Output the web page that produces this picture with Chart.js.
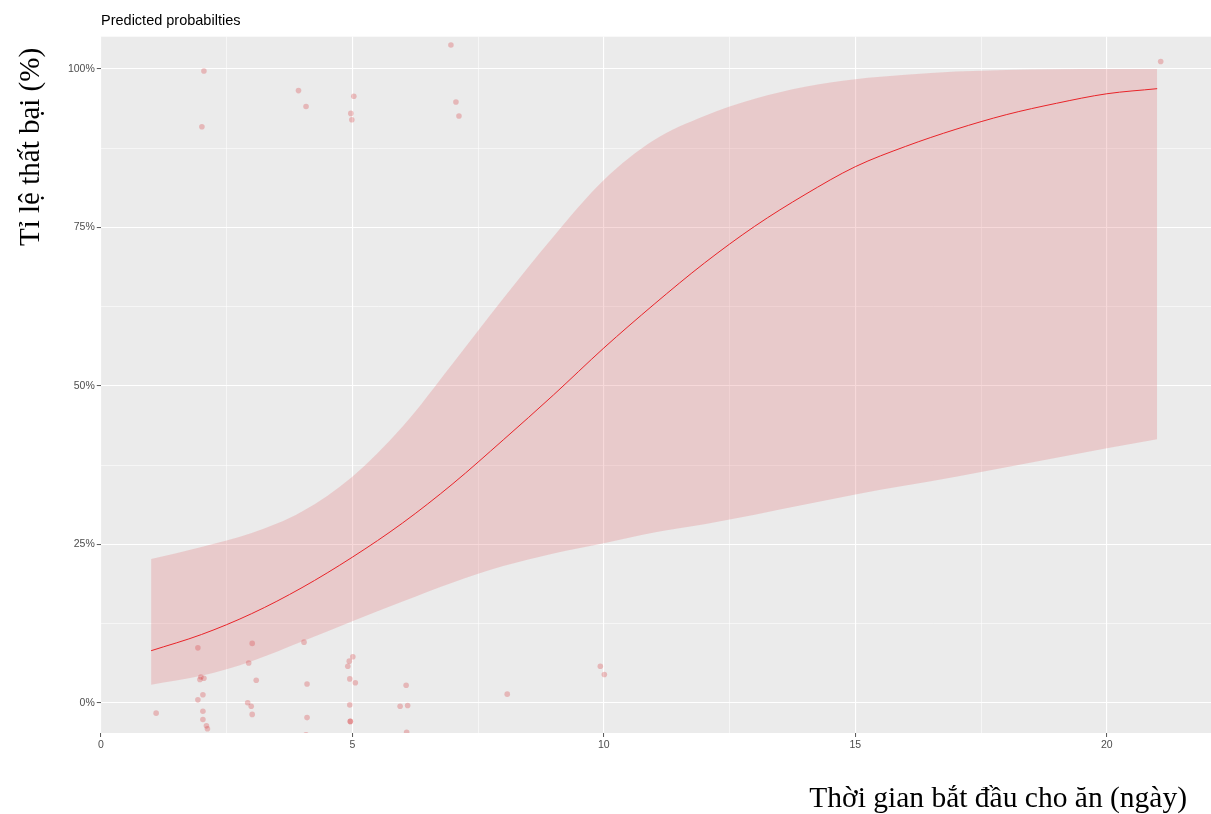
<!DOCTYPE html>
<html>
<head>
<meta charset="utf-8">
<script src="https://cdn.jsdelivr.net/npm/chart.js@4/dist/chart.umd.min.js"></script>
<style>
  html, body { margin: 0; padding: 0; background: #ffffff; }
  canvas { display: block; }
</style>
</head>
<body>
<canvas id="chart" width="1211" height="814"></canvas>
<script>
// Predicted probability curve (logistic fit) with its confidence band, in percent
const days = [1, 2, 3, 4, 5, 6, 7, 8, 9, 10, 11, 12, 13, 14, 15, 16, 17, 18, 19, 20, 21];
const predicted = [8.25, 10.8, 14.1, 18.2, 23.0, 28.4, 34.6, 41.5, 48.6, 56.0, 62.9, 69.4, 75.2, 80.2, 84.6, 87.8, 90.5, 92.8, 94.6, 96.1, 96.9];
const lowerBand = [2.9, 4.3, 6.6, 9.7, 12.9, 16.0, 19.0, 21.6, 23.6, 25.2, 26.9, 28.2, 29.7, 31.3, 32.9, 34.3, 35.7, 37.2, 38.7, 40.2, 41.6];
const upperBand = [22.7, 24.6, 26.8, 30.2, 35.7, 43.6, 53.6, 63.8, 73.6, 82.5, 88.8, 92.6, 95.3, 97.2, 98.4, 99.1, 99.6, 99.85, 99.95, 100, 100];

// Observed outcomes (jittered around 0% and 100%)
const obsDay = [2.05, 3.93, 4.08, 5.03, 4.97, 4.99, 2.01, 6.96, 7.06, 7.12, 21.07,
  1.93, 3.01, 4.04, 2.94, 1.99, 1.97, 2.05, 3.09, 2.03, 1.93, 4.10, 4.91, 4.94, 5.01, 4.95, 5.06, 6.07,
  1.10, 2.92, 2.99, 3.01, 2.03, 2.03, 2.10, 2.12, 4.10, 4.08, 4.95, 4.96, 4.96, 5.95, 6.10, 6.08,
  8.08, 9.93, 10.01];
const obsPct = [99.7, 96.6, 94.1, 95.7, 93.0, 92.0, 90.9, 103.8, 94.8, 92.6, 101.2,
  8.7, 9.4, 9.6, 6.3, 4.1, 3.7, 3.9, 3.6, 1.3, 0.5, 3.0, 5.8, 6.6, 7.3, 3.8, 3.2, 2.8,
  -1.6, 0.05, -0.5, -1.8, -1.3, -2.6, -3.6, -4.05, -2.3, -5.0, -0.3, -2.9, -2.9, -0.5, -0.4, -4.6,
  1.4, 5.8, 4.5];

const xTicks = [0, 2.5, 5, 7.5, 10, 12.5, 15, 17.5, 20];
const yTicks = [0, 12.5, 25, 37.5, 50, 62.5, 75, 87.5, 100];

const titleText = 'Predicted probabilties';
const yTitle = 'Tỉ lệ thất bại (%)';
const xTitle = 'Thời gian bắt đầu cho ăn (ngày)';

const pairs = (xs, ys) => xs.map((x, i) => ({ x: x, y: ys[i] }));

const panelBg = {
  id: 'panelBg',
  beforeDraw(chart) {
    const { ctx, chartArea: a } = chart;
    ctx.save();
    ctx.fillStyle = '#ebebeb';
    ctx.fillRect(a.left, a.top, a.right - a.left, a.bottom - a.top);
    ctx.restore();
  }
};

const titles = {
  id: 'titles',
  afterDraw(chart) {
    const ctx = chart.ctx;
    ctx.save();
    ctx.fillStyle = '#000000';
    ctx.textBaseline = 'alphabetic';
    ctx.font = '14.5px "Liberation Sans", Arial, sans-serif';
    ctx.textAlign = 'left';
    ctx.fillText(titleText, 101, 25);

    ctx.font = '29.5px "Liberation Serif", "Times New Roman", serif';
    ctx.textAlign = 'right';
    ctx.fillText(xTitle, 1187, 807);

    ctx.translate(39, 246);
    ctx.rotate(-Math.PI / 2);
    ctx.textAlign = 'left';
    ctx.font = '29px "Liberation Serif", "Times New Roman", serif';
    ctx.fillText(yTitle, 0, 0);
    ctx.restore();
  }
};

const isMajor = (v, step) => Math.abs(v / step - Math.round(v / step)) < 1e-6;

new Chart(document.getElementById('chart'), {
  type: 'scatter',
  data: {
    datasets: [
      {
        label: 'observed',
        data: pairs(obsDay, obsPct),
        showLine: false,
        pointRadius: 2.8,
        pointHoverRadius: 2.8,
        pointBorderWidth: 0,
        pointBackgroundColor: 'rgba(215,50,55,0.28)',
        clip: 0,
        order: 0
      },
      {
        label: 'predicted',
        data: pairs(days, predicted),
        showLine: true,
        borderColor: 'rgb(232,35,40)',
        borderWidth: 1,
        pointRadius: 0,
        fill: false,
        cubicInterpolationMode: 'monotone',
        order: 1
      },
      {
        label: 'upper',
        data: pairs(days, upperBand),
        showLine: true,
        borderWidth: 0,
        borderColor: 'rgba(0,0,0,0)',
        pointRadius: 0,
        backgroundColor: 'rgba(228,120,122,0.28)',
        fill: '+1',
        cubicInterpolationMode: 'monotone',
        order: 2
      },
      {
        label: 'lower',
        data: pairs(days, lowerBand),
        showLine: true,
        borderWidth: 0,
        borderColor: 'rgba(0,0,0,0)',
        pointRadius: 0,
        fill: false,
        cubicInterpolationMode: 'monotone',
        order: 3
      }
    ]
  },
  options: {
    responsive: false,
    animation: false,
    events: [],
    layout: { padding: { left: 0, right: 0, top: 36.7, bottom: 0 }, autoPadding: false },
    plugins: {
      legend: { display: false },
      tooltip: { enabled: false },
      title: { display: false },
      filler: { propagate: false }
    },
    scales: {
      x: {
        type: 'linear',
        min: 0,
        max: 22.07,
        afterBuildTicks(scale) { scale.ticks = xTicks.map(v => ({ value: v })); },
        afterFit(scale) { scale.height = 81; },
        border: { display: false },
        grid: {
          color: '#ffffff',
          lineWidth: ctx => (ctx.tick && isMajor(ctx.tick.value, 5)) ? 1.1 : 0.55,
          tickColor: ctx => (ctx.tick && isMajor(ctx.tick.value, 5)) ? '#555555' : 'rgba(0,0,0,0)',
          tickLength: 4,
          tickWidth: 1
        },
        ticks: {
          autoSkip: false,
          maxRotation: 0,
          padding: 2,
          color: '#4d4d4d',
          font: { family: '"Liberation Sans", Arial, sans-serif', size: 10.5 },
          callback: v => isMajor(v, 5) ? String(v) : ''
        }
      },
      y: {
        type: 'linear',
        min: -4.73,
        max: 105.1,
        afterBuildTicks(scale) { scale.ticks = yTicks.map(v => ({ value: v })); },
        afterFit(scale) { scale.width = 100.8; },
        border: { display: false },
        grid: {
          color: '#ffffff',
          lineWidth: ctx => (ctx.tick && isMajor(ctx.tick.value, 25)) ? 1.1 : 0.55,
          tickColor: ctx => (ctx.tick && isMajor(ctx.tick.value, 25)) ? '#555555' : 'rgba(0,0,0,0)',
          tickLength: 4,
          tickWidth: 1
        },
        ticks: {
          autoSkip: false,
          padding: 2,
          color: '#4d4d4d',
          font: { family: '"Liberation Sans", Arial, sans-serif', size: 10.5 },
          callback: v => isMajor(v, 25) ? v + '%' : ''
        }
      }
    }
  },
  plugins: [panelBg, titles]
});
</script>
</body>
</html>
